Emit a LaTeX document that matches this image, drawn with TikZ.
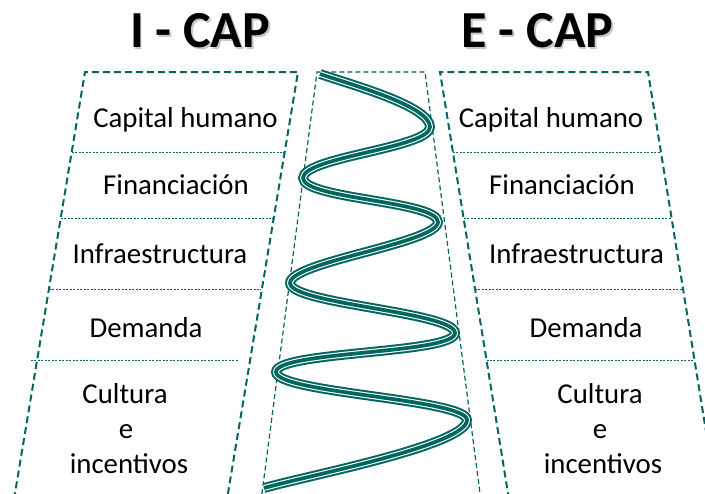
\documentclass[tikz,border=0pt]{standalone}
\usepackage{fontspec}
\setmainfont{Carlito}
\definecolor{tealA}{RGB}{0,102,94}
\begin{document}
\begin{tikzpicture}[x=0.75pt,y=-0.75pt,
  edge/.style={draw=tealA, line width=1.5pt, dash pattern=on 5.25pt off 3pt},
  midedge/.style={draw=tealA, line width=0.9pt, dash pattern=on 3.75pt off 2.25pt},
  sep/.style={draw=tealA, line width=0.75pt, dash pattern=on 1.5pt off 1.1pt},
  lab/.style={font=\fontsize{21.6}{26}\selectfont, anchor=base, inner sep=0pt},
  ttl/.style={font=\fontsize{39}{44}\bfseries\selectfont, anchor=base, inner sep=0pt},
  shd/.style={ttl, text=black!22},
  spiralline/.style={draw=tealA, line width=2.8pt,
     preaction={draw=tealA, line width=7.4pt},
     preaction={draw=white, line width=4.4pt}}
]
\useasboundingbox (0,0) rectangle (705,493);
\clip (0,0) rectangle (705,493);

% titles
\node[shd] (t1s) at (201.8,49) {I - CAP};
\node[ttl] (t1) at (200,47) {I - CAP};
\node[shd] (t2s) at (539.3,49) {E - CAP};
\node[ttl] (t2) at (537.5,47) {E - CAP};

% left frame
\coordinate (LA) at (85,72);
\coordinate (LB) at (298,72);
\coordinate (LC) at (225.2,510);
\coordinate (LD) at (12.2,510);
\draw[edge] (LD) -- (LA) -- (LB) -- (LC);

% middle frame
\coordinate (MA) at (317,72);
\coordinate (MB) at (425,72);
\coordinate (MC) at (482.2,510);
\coordinate (MD) at (259.8,510);
\draw[midedge] (MD) -- (MA) -- (MB) -- (MC);

% right frame
\coordinate (RA) at (440,72);
\coordinate (RB) at (648,72);
\coordinate (RC) at (718.7,510);
\coordinate (RD) at (510.7,510);
\draw[edge] (RD) -- (RA) -- (RB) -- (RC);

% left separators
\draw[sep] (72,152) -- (284,152);
\draw[sep] (61,218) -- (273,218);
\draw[sep] (49,289) -- (261,289);
\draw[sep] (31,360) -- (238,360);

% right separators
\draw[sep] (453,152) -- (661,152);
\draw[sep] (464,218) -- (672,218);
\draw[sep] (475,289) -- (683,289);
\draw[sep] (486.5,360) -- (694.5,360);

% left labels
\node[lab] (l1) at (185.5,127) {Capital humano};
\node[lab] (l2) at (176,194) {Financiación};
\node[lab] (l3) at (160,263) {Infraestructura};
\node[lab] (l4) at (146,337) {Demanda};
\node[lab] (l5a) at (125,403) {Cultura};
\node[lab] (l5b) at (126,438) {e};
\node[lab] (l5c) at (129,473) {incentivos};

% right labels
\node[lab] (r1) at (551,127) {Capital humano};
\node[lab] (r2) at (562,194) {Financiación};
\node[lab] (r3) at (576.5,263) {Infraestructura};
\node[lab] (r4) at (586,337) {Demanda};
\node[lab] (r5a) at (600,403) {Cultura};
\node[lab] (r5b) at (600,438) {e};
\node[lab] (r5c) at (603,473) {incentivos};

% spiral
\draw[spiralline] (320,74)
  .. controls (352,85) and (430,106) .. (430,127)
  .. controls (430,148) and (303,157) .. (303,178)
  .. controls (303,199) and (438,201) .. (438,222)
  .. controls (438,243) and (290,262) .. (290,283)
  .. controls (290,304) and (455,312) .. (455,333)
  .. controls (455,354) and (276,351) .. (276,372)
  .. controls (276,393) and (467,399) .. (467,420)
  .. controls (467,445) and (310,475) .. (264,488);
\end{tikzpicture}
\end{document}
